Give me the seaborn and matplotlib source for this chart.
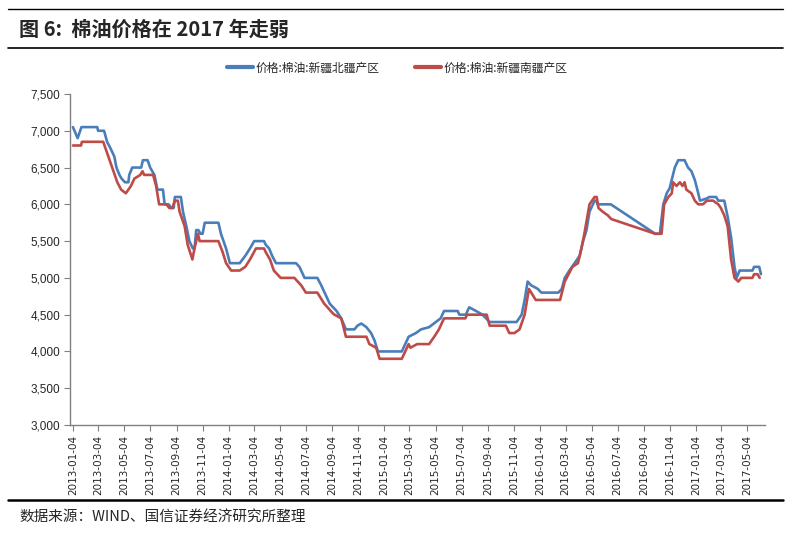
import pandas as pd
import numpy as np
import matplotlib
matplotlib.use('Agg')
import matplotlib.pyplot as plt
import matplotlib.dates as mdates
from matplotlib.lines import Line2D
from matplotlib.ticker import FuncFormatter
import seaborn as sns

# 价格:棉油:新疆北疆产区
north_dates = ['2013-01-04', '2013-01-15', '2013-01-24', '2013-03-02', '2013-03-04', '2013-03-18',
               '2013-03-25', '2013-04-03', '2013-04-11', '2013-04-16', '2013-04-23', '2013-04-28',
               '2013-05-06', '2013-05-14', '2013-05-16', '2013-05-23', '2013-06-13', '2013-06-17',
               '2013-06-28', '2013-07-04', '2013-07-14', '2013-07-21', '2013-08-03', '2013-08-07',
               '2013-08-16', '2013-08-23', '2013-08-28', '2013-08-31', '2013-09-14', '2013-09-19',
               '2013-09-27', '2013-10-04', '2013-10-12', '2013-10-16', '2013-10-20', '2013-10-25',
               '2013-10-30', '2013-11-04', '2013-11-09', '2013-12-11', '2013-12-17', '2013-12-29',
               '2014-01-07', '2014-01-30', '2014-02-12', '2014-02-23', '2014-03-05', '2014-03-28',
               '2014-04-01', '2014-04-09', '2014-04-16', '2014-04-25', '2014-06-11', '2014-06-19',
               '2014-07-01', '2014-07-31', '2014-08-09', '2014-08-21', '2014-08-29', '2014-09-14',
               '2014-09-25', '2014-10-06', '2014-10-26', '2014-11-02', '2014-11-11', '2014-11-23',
               '2014-12-04', '2014-12-12', '2014-12-20', '2015-02-14', '2015-03-02', '2015-03-19',
               '2015-03-31', '2015-04-19', '2015-05-05', '2015-05-16', '2015-05-24', '2015-06-25',
               '2015-06-29', '2015-07-14', '2015-07-22', '2015-08-07', '2015-08-22', '2015-09-08',
               '2015-11-10', '2015-11-22', '2015-11-29', '2015-12-06', '2015-12-14', '2015-12-30',
               '2016-01-07', '2016-02-16', '2016-02-24', '2016-03-02', '2016-03-13', '2016-03-25',
               '2016-04-06', '2016-04-14', '2016-04-22', '2016-04-29', '2016-05-11', '2016-05-15',
               '2016-05-18', '2016-06-18', '2016-09-30', '2016-10-11', '2016-10-19', '2016-10-27',
               '2016-11-03', '2016-11-15', '2016-11-23', '2016-12-08', '2016-12-16', '2016-12-24',
               '2017-01-01', '2017-01-09', '2017-01-13', '2017-01-29', '2017-02-04', '2017-02-20',
               '2017-02-25', '2017-03-11', '2017-03-19', '2017-03-27', '2017-04-04', '2017-04-09',
               '2017-04-16', '2017-05-16', '2017-05-20', '2017-06-01', '2017-06-05']
north_values = [7050, 6900, 7050, 7050, 7000, 7000,
                6850, 6750, 6650, 6500, 6400, 6350,
                6300, 6300, 6400, 6500, 6500, 6600,
                6600, 6500, 6400, 6200, 6200, 6000,
                6000, 5950, 5950, 6100, 6100, 5900,
                5700, 5500, 5400, 5400, 5650, 5650,
                5600, 5600, 5750, 5750, 5600, 5400,
                5200, 5200, 5300, 5400, 5500, 5500,
                5450, 5400, 5300, 5200, 5200, 5150,
                5000, 5000, 4900, 4750, 4650, 4550,
                4450, 4300, 4300, 4350, 4380, 4330,
                4250, 4150, 4000, 4000, 4200, 4250,
                4300, 4330, 4400, 4450, 4550, 4550,
                4500, 4500, 4600, 4550, 4500, 4400,
                4400, 4500, 4700, 4950, 4900, 4850,
                4800, 4800, 4850, 5000, 5100, 5200,
                5300, 5500, 5650, 5900, 6050, 6050,
                6000, 6000, 5600, 5600, 6000, 6150,
                6220, 6500, 6600, 6600, 6500, 6450,
                6330, 6150, 6050, 6080, 6100, 6100,
                6050, 6050, 5830, 5550, 5150, 5000,
                5100, 5100, 5150, 5150, 5050]

# 价格:棉油:新疆南疆产区
south_dates = ['2013-01-04', '2013-01-23', '2013-01-25', '2013-03-16', '2013-03-25', '2013-04-06',
               '2013-04-18', '2013-04-27', '2013-05-08', '2013-05-20', '2013-05-28', '2013-06-11',
               '2013-06-16', '2013-06-20', '2013-07-11', '2013-07-18', '2013-07-25', '2013-08-11',
               '2013-08-18', '2013-08-25', '2013-08-31', '2013-09-07', '2013-09-11', '2013-09-23',
               '2013-09-30', '2013-10-11', '2013-10-16', '2013-10-24', '2013-10-28', '2013-12-11',
               '2013-12-21', '2013-12-29', '2014-01-10', '2014-01-30', '2014-02-12', '2014-02-23',
               '2014-03-09', '2014-03-28', '2014-04-01', '2014-04-11', '2014-04-20', '2014-05-06',
               '2014-06-07', '2014-06-23', '2014-07-04', '2014-07-31', '2014-08-16', '2014-09-05',
               '2014-09-09', '2014-09-25', '2014-10-06', '2014-11-23', '2014-11-30', '2014-12-16',
               '2014-12-24', '2015-02-14', '2015-03-02', '2015-03-06', '2015-03-22', '2015-04-19',
               '2015-05-01', '2015-05-12', '2015-05-24', '2015-07-13', '2015-07-17', '2015-09-01',
               '2015-09-08', '2015-10-16', '2015-10-24', '2015-11-05', '2015-11-17', '2015-11-29',
               '2015-12-09', '2015-12-25', '2016-02-20', '2016-03-02', '2016-03-20', '2016-04-02',
               '2016-04-10', '2016-04-17', '2016-04-29', '2016-05-11', '2016-05-16', '2016-05-20',
               '2016-05-30', '2016-06-11', '2016-06-19', '2016-09-30', '2016-10-15', '2016-10-21',
               '2016-10-31', '2016-11-08', '2016-11-11', '2016-11-19', '2016-11-27', '2016-12-03',
               '2016-12-08', '2016-12-12', '2016-12-24', '2017-01-01', '2017-01-09', '2017-01-20',
               '2017-01-29', '2017-02-13', '2017-02-25', '2017-03-03', '2017-03-11', '2017-03-19',
               '2017-03-27', '2017-04-04', '2017-04-13', '2017-04-20', '2017-05-16', '2017-05-20',
               '2017-05-28', '2017-06-02']
south_values = [6800, 6800, 6850, 6850, 6700, 6500,
                6300, 6200, 6150, 6250, 6350, 6400,
                6450, 6400, 6400, 6250, 6000, 6000,
                5950, 5950, 6050, 6050, 5900, 5700,
                5450, 5250, 5400, 5600, 5500, 5500,
                5350, 5200, 5100, 5100, 5150, 5250,
                5400, 5400, 5350, 5250, 5100, 5000,
                5000, 4900, 4800, 4800, 4650, 4520,
                4500, 4450, 4200, 4200, 4100, 4050,
                3900, 3900, 4100, 4050, 4100, 4100,
                4200, 4300, 4450, 4450, 4500, 4500,
                4350, 4350, 4250, 4250, 4300, 4500,
                4850, 4700, 4700, 4950, 5150, 5200,
                5400, 5600, 6000, 6100, 6100, 5950,
                5900, 5850, 5800, 5600, 5600, 6000,
                6100, 6150, 6300, 6250, 6300, 6250,
                6300, 6200, 6150, 6050, 6000, 6000,
                6050, 6050, 6000, 5950, 5850, 5700,
                5250, 5000, 4950, 5000, 5000, 5050,
                5050, 5000]

series_names = ['价格:棉油:新疆北疆产区', '价格:棉油:新疆南疆产区']
colors = ['#4A7EBB', '#BE4B48']
y_ticks = [3000, 3500, 4000, 4500, 5000, 5500, 6000, 6500, 7000, 7500]

df = pd.concat([
    pd.DataFrame({'date': pd.to_datetime(north_dates), 'price': north_values, 'series': series_names[0]}),
    pd.DataFrame({'date': pd.to_datetime(south_dates), 'price': south_values, 'series': series_names[1]}),
])

sns.set_style('white')
plt.rcParams['font.family'] = ['Liberation Sans', 'Noto Sans CJK SC', 'DejaVu Sans']

fig = plt.figure(figsize=(7.95, 5.35), dpi=100)
ax = fig.add_axes([0.088, 0.2056, 0.874, 0.6187])

sns.lineplot(data=df, x='date', y='price', hue='series', palette=colors,
             linewidth=1.9, ax=ax, legend=False, sort=False, estimator=None)

ax.set_ylim(3000, 7500)
ax.set_yticks(y_ticks)
ax.yaxis.set_major_formatter(FuncFormatter(lambda v, p: '{:,.0f}'.format(v)))
ax.set_xlim(pd.Timestamp('2012-12-28'), pd.Timestamp('2017-06-14'))
ax.xaxis.set_major_locator(mdates.MonthLocator(bymonth=[1, 3, 5, 7, 9, 11], bymonthday=4))
ax.xaxis.set_major_formatter(mdates.DateFormatter('%Y-%m-%d'))
ax.set_xlabel('')
ax.set_ylabel('')
for lab in ax.get_xticklabels():
    lab.set_rotation(90)
    lab.set_fontfamily('DejaVu Sans')
    lab.set_fontsize(7.5)
ax.tick_params(axis='y', labelsize=8.5, length=4, color='#808080', left=True, pad=3)
ax.tick_params(axis='x', length=4, color='#808080', bottom=True, pad=3)
for s in ['top', 'right']:
    ax.spines[s].set_visible(False)
for s in ['left', 'bottom']:
    ax.spines[s].set_color('#808080')
    ax.spines[s].set_linewidth(1)

handles = [Line2D([0], [0], color=c, lw=3) for c in colors]
fig.legend(handles, series_names, loc='center', bbox_to_anchor=(0.5, 0.873), ncol=2,
           frameon=False, handlelength=2.2, handletextpad=0.2, columnspacing=3,
           prop={'family': ['Noto Sans CJK SC'], 'size': 8.5})

# header / footer
fig.add_artist(Line2D([0.01, 0.985], [1 - 9 / 535] * 2, color='black', lw=1))
fig.add_artist(Line2D([0.01, 0.985], [1 - 48 / 535] * 2, color='black', lw=1.2))
fig.text(0.024, 1 - 29 / 535, '图 6:  棉油价格在 2017 年走弱', fontsize=14.5, fontweight='bold',
         va='center', ha='left', family=['Noto Sans CJK SC', 'DejaVu Sans'])
fig.add_artist(Line2D([0.01, 0.985], [1 - 500 / 535] * 2, color='black', lw=1.8))
fig.text(0.024, 1 - 518 / 535, '数据来源：WIND、国信证券经济研究所整理', fontsize=10.5,
         va='center', ha='left', family=['Noto Sans CJK SC', 'DejaVu Sans'])

fig.savefig('out.png', dpi=100)
